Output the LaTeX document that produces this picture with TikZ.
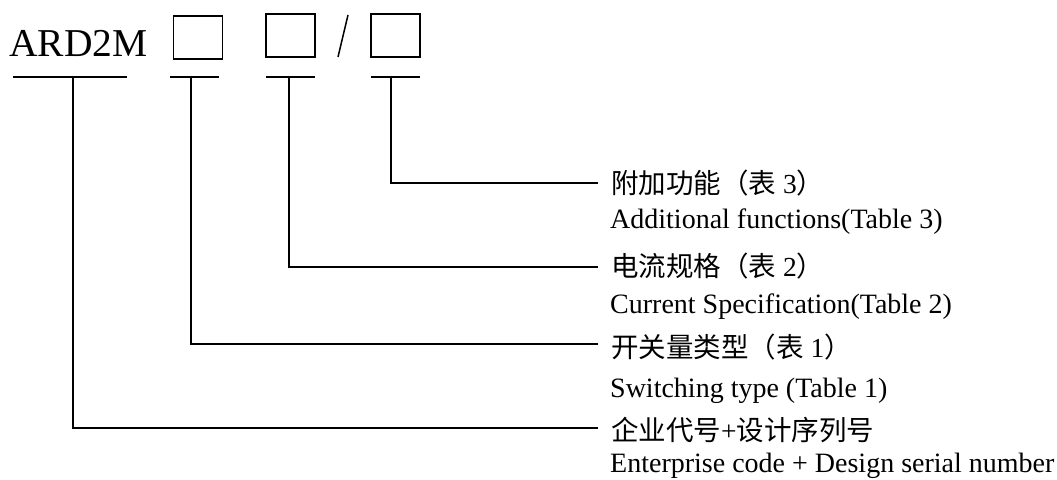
\documentclass[tikz,border=0pt]{standalone}
\usepackage{fontspec}
\setmainfont{Liberation Serif}
\newfontfamily\cjk{Noto Sans CJK SC}
\begin{document}
\begin{tikzpicture}[x=1pt,y=-1pt,
  box/.style={draw, line width=1.2pt, inner sep=0pt, minimum width=49pt, minimum height=43pt},
  lead/.style={line width=1.6pt},
  cn/.style={anchor=west, inner sep=0pt, font=\fontsize{27.5}{30}\selectfont},
  en/.style={anchor=base west, inner sep=0pt, font=\fontsize{28}{30}\selectfont}]
\useasboundingbox (0,0) rectangle (1057,479);
% model code
\node[anchor=base west, inner sep=0pt, font=\fontsize{39.5}{42}\selectfont] (code) at (9,56) {ARD2M};
\node[box] (b1) at (198,37.5) {};
\node[box] (b2) at (290.5,35.5) {};
\node[box] (b3) at (395.5,35.5) {};
\coordinate (s1) at (348,15);
\coordinate (s2) at (338,57);
\draw[line width=1.5pt] (s1) -- (s2);
% underlines
\coordinate (l1) at (13,77);  \coordinate (r1) at (127,77);
\coordinate (l2) at (170,77); \coordinate (r2) at (219,77);
\coordinate (l3) at (266,77); \coordinate (r3) at (315,77);
\coordinate (l4) at (371,77); \coordinate (r4) at (420,77);
\draw[lead] (l1) -- (r1);
\draw[lead] (l2) -- (r2);
\draw[lead] (l3) -- (r3);
\draw[lead] (l4) -- (r4);
\coordinate (u1) at (73,77);
\coordinate (u2) at (191,77);
\coordinate (u3) at (289,77);
\coordinate (u4) at (391,77);
% line ends
\coordinate (e1) at (598,183);
\coordinate (e2) at (598,267);
\coordinate (e3) at (598,344);
\coordinate (e4) at (598,428);
\draw[lead] (u4) |- (e1);
\draw[lead] (u3) |- (e2);
\draw[lead] (u2) |- (e3);
\draw[lead] (u1) |- (e4);
% labels
\node[cn] (cn1) at (611,183) {{\cjk 附加功能（表}\ 3{\cjk ）}};
\node[en] (en1) at (610,228) {Additional functions(Table 3)};
\node[cn] (cn2) at (611,266) {{\cjk 电流规格（表}\ 2{\cjk ）}};
\node[en] (en2) at (610,313) {Current Specification(Table 2)};
\node[cn] (cn3) at (611,347) {{\cjk 开关量类型（表}\ 1{\cjk ）}};
\node[en] (en3) at (610,397) {Switching type (Table 1)};
\node[cn] (cn4) at (611,430) {{\cjk 企业代号}+{\cjk 设计序列号}};
\node[en] (en4) at (610,472) {Enterprise code + Design serial number};
\end{tikzpicture}
\end{document}
